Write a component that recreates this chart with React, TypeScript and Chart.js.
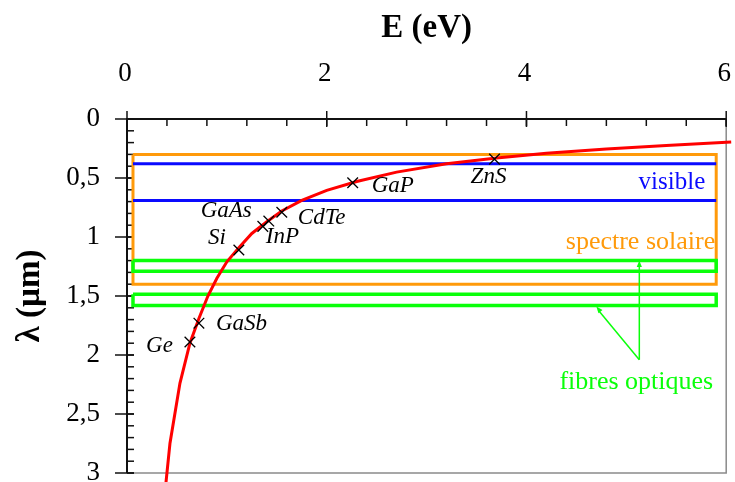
import React, { useEffect, useRef } from "react";
import { Chart, registerables } from "chart.js";

Chart.register(...registerables);

// Axis ticks
const energyTicks = [0, 2, 4, 6];
const energyTickLabels = ["0", "2", "4", "6"];
const energyMinorStep = 0.4;
const lambdaTicks = [0, 0.5, 1, 1.5, 2, 2.5, 3];
const lambdaTickLabels = ["0", "0,5", "1", "1,5", "2", "2,5", "3"];
const lambdaMinorStep = 0.1;

// λ(E) curve, energy in eV and wavelength in µm
const curveEnergy = [0.365, 0.43, 0.53, 0.63, 0.72, 0.81, 0.9, 1.0, 1.12, 1.25, 1.4, 1.55, 1.75, 2.0, 2.3, 2.7, 3.2, 3.7, 4.2, 4.8, 5.4, 6.05];
const curveLambda = [3.29, 2.75, 2.24, 1.9, 1.69, 1.5, 1.35, 1.21, 1.09, 0.97, 0.87, 0.78, 0.69, 0.605, 0.53, 0.45, 0.38, 0.33, 0.29, 0.255, 0.225, 0.195];

// Semiconductors (gap energy, cut-off wavelength)
const materials = ["Ge", "GaSb", "Si", "InP", "GaAs", "CdTe", "GaP", "ZnS"];
const materialEnergy = [0.63, 0.72, 1.12, 1.36, 1.42, 1.55, 2.26, 3.68];
const materialLambda = [1.89, 1.73, 1.11, 0.91, 0.865, 0.79, 0.54, 0.34];

// Spectral bands (λ ranges in µm) and the energy span they are drawn across
const bandEnergySpan = [0.06, 5.9];
const solarBand = [0.3, 1.4];
const visibleBand = [0.38, 0.69];
const fibreBandA = [1.2, 1.29];
const fibreBandB = [1.485, 1.58];

// Fibre arrows: common origin and the two tips
const arrowOrigin = [5.13, 2.04];
const arrowTipA = [5.13, 1.2];
const arrowTipB = [4.7, 1.59];

const ORANGE = "#ff9a0a";
const BLUE = "#0a0aff";
const GREEN = "#0aff0a";
const RED = "#ff0000";
const SERIF = "'Liberation Serif', 'Times New Roman', serif";

// Label placement next to each marker, in pixels
const materialLabelOffset: Record<string, { dx: number; dy: number; align: CanvasTextAlign }> = {
  Ge: { dx: -17, dy: 4, align: "right" },
  GaSb: { dx: 17, dy: 1, align: "left" },
  Si: { dx: -13, dy: -12, align: "right" },
  InP: { dx: 3, dy: 11, align: "left" },
  GaAs: { dx: -17, dy: -10, align: "right" },
  CdTe: { dx: 16, dy: 6, align: "left" },
  GaP: { dx: 19, dy: 3, align: "left" },
  ZnS: { dx: -6, dy: 18, align: "center" },
};

const rectPath = (e0: number, e1: number, l0: number, l1: number) => [
  { x: e0, y: l0 },
  { x: e1, y: l0 },
  { x: e1, y: l1 },
  { x: e0, y: l1 },
  { x: e0, y: l0 },
];

const hLine = (e0: number, e1: number, l: number) => [
  { x: e0, y: l },
  { x: e1, y: l },
];

const framePlugin = {
  id: "frame",
  beforeDatasetsDraw(chart: any) {
    const { ctx, scales } = chart;
    const xs = scales.x;
    const ys = scales.y;
    const left = xs.getPixelForValue(0);
    const right = xs.getPixelForValue(6);
    const top = ys.getPixelForValue(0);
    const bottom = ys.getPixelForValue(3);
    ctx.save();
    // grey right and bottom borders
    ctx.strokeStyle = "#8a8a8a";
    ctx.lineWidth = 1.5;
    ctx.beginPath();
    ctx.moveTo(right, top);
    ctx.lineTo(right, bottom);
    ctx.lineTo(left, bottom);
    ctx.stroke();
    // black top and left axes
    ctx.strokeStyle = "#111";
    ctx.lineWidth = 2;
    ctx.beginPath();
    ctx.moveTo(right, top);
    ctx.lineTo(left, top);
    ctx.lineTo(left, bottom);
    ctx.stroke();
    ctx.lineWidth = 1.5;
    // top axis ticks
    for (let i = 0; i <= Math.round(6 / energyMinorStep); i++) {
      const px = xs.getPixelForValue(i * energyMinorStep);
      ctx.beginPath();
      ctx.moveTo(px, top);
      ctx.lineTo(px, top + 7);
      ctx.stroke();
    }
    energyTicks.forEach((v) => {
      const px = xs.getPixelForValue(v);
      ctx.beginPath();
      ctx.moveTo(px, top - 8);
      ctx.lineTo(px, top + 8);
      ctx.stroke();
    });
    // left axis ticks
    for (let i = 0; i <= Math.round(3 / lambdaMinorStep); i++) {
      const py = ys.getPixelForValue(i * lambdaMinorStep);
      ctx.beginPath();
      ctx.moveTo(left, py);
      ctx.lineTo(left + 7, py);
      ctx.stroke();
    }
    lambdaTicks.forEach((v) => {
      const py = ys.getPixelForValue(v);
      ctx.beginPath();
      ctx.moveTo(left - 12, py);
      ctx.lineTo(left + 7, py);
      ctx.stroke();
    });
    ctx.restore();
  },
  afterDatasetsDraw(chart: any) {
    const { ctx, scales } = chart;
    const xs = scales.x;
    const ys = scales.y;
    const left = xs.getPixelForValue(0);
    const right = xs.getPixelForValue(6);
    const top = ys.getPixelForValue(0);
    const bottom = ys.getPixelForValue(3);
    ctx.save();

    // arrowheads on the fibre arrows
    const head = (from: number[], to: number[]) => {
      const x0 = xs.getPixelForValue(from[0]);
      const y0 = ys.getPixelForValue(from[1]);
      const x1 = xs.getPixelForValue(to[0]);
      const y1 = ys.getPixelForValue(to[1]);
      const a = Math.atan2(y1 - y0, x1 - x0);
      const len = 7;
      const w = 0.38;
      ctx.fillStyle = GREEN;
      ctx.beginPath();
      ctx.moveTo(x1, y1);
      ctx.lineTo(x1 - len * Math.cos(a - w), y1 - len * Math.sin(a - w));
      ctx.lineTo(x1 - len * Math.cos(a + w), y1 - len * Math.sin(a + w));
      ctx.closePath();
      ctx.fill();
    };
    head(arrowOrigin, arrowTipA);
    head(arrowOrigin, arrowTipB);

    // tick labels
    ctx.fillStyle = "#000";
    ctx.font = `27px ${SERIF}`;
    ctx.textAlign = "center";
    ctx.textBaseline = "middle";
    energyTicks.forEach((v, i) => {
      ctx.fillText(energyTickLabels[i], xs.getPixelForValue(v) - 2, top - 45);
    });
    ctx.textAlign = "right";
    lambdaTicks.forEach((v, i) => {
      ctx.fillText(lambdaTickLabels[i], left - 27, ys.getPixelForValue(v));
    });

    // axis titles
    ctx.font = `bold 33px ${SERIF}`;
    ctx.textAlign = "center";
    ctx.fillText("E (eV)", (left + right) / 2, 28);
    ctx.save();
    ctx.translate(30, (top + bottom) / 2);
    ctx.rotate(-Math.PI / 2);
    ctx.fillText("λ (µm)", 0, 0);
    ctx.restore();

    // material names
    ctx.font = `italic 23px ${SERIF}`;
    materials.forEach((name, i) => {
      const o = materialLabelOffset[name];
      ctx.textAlign = o.align;
      ctx.fillText(name, xs.getPixelForValue(materialEnergy[i]) + o.dx, ys.getPixelForValue(materialLambda[i]) + o.dy);
    });

    // band names
    ctx.font = `25px ${SERIF}`;
    ctx.textAlign = "right";
    ctx.fillStyle = BLUE;
    ctx.fillText("visible", xs.getPixelForValue(5.79), ys.getPixelForValue(0.54));
    ctx.fillStyle = ORANGE;
    ctx.font = `26px ${SERIF}`;
    ctx.fillText("spectre solaire", xs.getPixelForValue(5.89), ys.getPixelForValue(1.04));
    ctx.fillStyle = GREEN;
    ctx.textAlign = "center";
    ctx.fillText("fibres optiques", xs.getPixelForValue(5.1), ys.getPixelForValue(2.23));
    ctx.restore();
  },
};

export default function App() {
  const canvasRef = useRef<HTMLCanvasElement | null>(null);

  useEffect(() => {
    const canvas = canvasRef.current;
    if (!canvas) return;

    const line = (data: { x: number; y: number }[], color: string, width: number) => ({
      data,
      showLine: true,
      borderColor: color,
      backgroundColor: color,
      borderWidth: width,
      pointRadius: 0,
      fill: false,
      tension: 0,
    });

    const chart = new Chart(canvas, {
      type: "scatter",
      data: {
        datasets: [
          {
            data: materialEnergy.map((e, i) => ({ x: e, y: materialLambda[i] })),
            showLine: false,
            pointStyle: "crossRot",
            pointRadius: 7.5,
            borderColor: "#000",
            borderWidth: 1.3,
          },
          {
            ...line(curveEnergy.map((e, i) => ({ x: e, y: curveLambda[i] })), RED, 3),
            clip: false,
          },
          line([{ x: arrowOrigin[0], y: arrowOrigin[1] }, { x: arrowTipA[0], y: arrowTipA[1] + 0.03 }], GREEN, 1.5),
          line([{ x: arrowOrigin[0], y: arrowOrigin[1] }, { x: arrowTipB[0] + 0.02, y: arrowTipB[1] + 0.03 }], GREEN, 1.5),
          line(rectPath(bandEnergySpan[0], bandEnergySpan[1], fibreBandA[0], fibreBandA[1]), GREEN, 3.5),
          line(rectPath(bandEnergySpan[0], bandEnergySpan[1], fibreBandB[0], fibreBandB[1]), GREEN, 3.5),
          line(hLine(bandEnergySpan[0], bandEnergySpan[1], visibleBand[0]), BLUE, 3),
          line(hLine(bandEnergySpan[0], bandEnergySpan[1], visibleBand[1]), BLUE, 3),
          line(rectPath(bandEnergySpan[0], bandEnergySpan[1], solarBand[0], solarBand[1]), ORANGE, 3),
        ],
      },
      options: {
        responsive: false,
        animation: false,
        events: [],
        layout: { padding: { left: 127, right: 6, top: 119, bottom: 9 } },
        plugins: {
          legend: { display: false },
          tooltip: { enabled: false },
        },
        scales: {
          x: { type: "linear", min: 0, max: 6, display: false },
          y: { type: "linear", min: 0, max: 3, reverse: true, display: false },
        },
      },
      plugins: [framePlugin],
    });

    return () => chart.destroy();
  }, []);

  return (
    <div style={{ position: "fixed", left: 0, top: 0, width: 735, height: 482, background: "#fff" }}>
      <canvas ref={canvasRef} width={735} height={482} style={{ display: "block" }} />
    </div>
  );
}
